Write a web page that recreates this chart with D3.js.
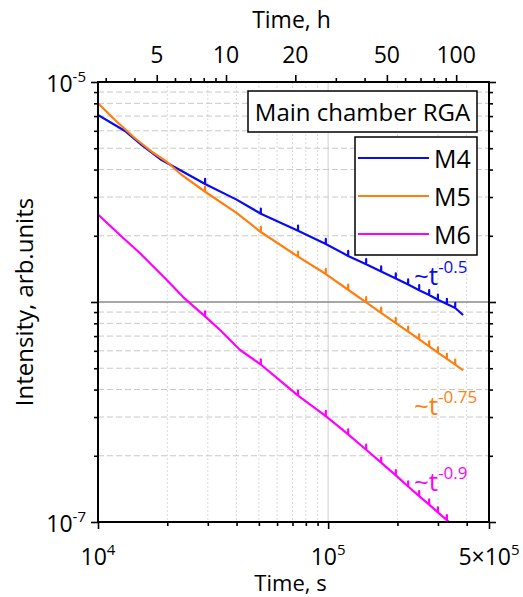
<!DOCTYPE html>
<html>
<head>
<meta charset="utf-8">
<script src="https://cdn.jsdelivr.net/npm/d3@7"></script>
<style>
  body { margin: 0; background: #fff; }
  text { font-family: "Open Sans", sans-serif; fill: #000; }
</style>
</head>
<body>
<svg id="chart" width="523" height="597"></svg>
<script>
// ---- data: RGA intensity vs time for three mass channels ----
const m4Time  = [10000, 13100, 15500, 18900, 22700, 29200, 40000, 51000, 74000, 97700, 122200, 146300, 170000, 196800, 222700, 248700, 274800, 299900, 328100, 356600, 385600];
const m4Value = [7.08e-6, 5.99e-6, 5.17e-6, 4.42e-6, 3.98e-6, 3.44e-6, 2.92e-6, 2.52e-6, 2.11e-6, 1.835e-6, 1.62e-6, 1.485e-6, 1.376e-6, 1.28e-6, 1.2e-6, 1.132e-6, 1.075e-6, 1.023e-6, 9.8e-7, 9.39e-7, 8.73e-7];

const m5Time  = [10000, 11860, 14480, 17120, 19900, 23100, 29200, 40000, 51000, 74000, 97700, 122200, 146300, 170000, 196800, 222700, 248700, 274800, 299900, 328100, 356600, 386400];
const m5Value = [8.0e-6, 6.72e-6, 5.55e-6, 4.82e-6, 4.34e-6, 3.78e-6, 3.17e-6, 2.54e-6, 2.08e-6, 1.607e-6, 1.34e-6, 1.137e-6, 9.97e-7, 8.93e-7, 8.02e-7, 7.33e-7, 6.76e-7, 6.28e-7, 5.89e-7, 5.51e-7, 5.19e-7, 4.89e-7];

const m6Time  = [10000, 12460, 15230, 19900, 23490, 29200, 33920, 41430, 51000, 61830, 74000, 97700, 122200, 146300, 170000, 196800, 222700, 248700, 274800, 299900, 328100, 340000];
const m6Value = [2.5e-6, 2.016e-6, 1.665e-6, 1.259e-6, 1.05e-6, 8.6e-7, 7.46e-7, 6.05e-7, 5.2e-7, 4.39e-7, 3.75e-7, 3.03e-7, 2.5e-7, 2.13e-7, 1.86e-7, 1.63e-7, 1.45e-7, 1.31e-7, 1.2e-7, 1.106e-7, 1.02e-7, 9.85e-8];

// moments of the short pressure bursts seen on every channel (s)
const spikeTimes = [29200, 51000, 74000, 97700, 122200, 146300, 170000, 196800, 222700, 248700, 274800, 299900, 328100, 356600];

const seriesNames  = ["M4", "M5", "M6"];
const seriesColors = ["#0a0af5", "#ff7f0e", "#ff00ff"];
const slopeLabels  = ["-0.5", "-0.75", "-0.9"];

// axis ticks
const xMajor = [1e4, 1e5, 5e5];
const xMinor = [2e4, 3e4, 4e4, 5e4, 6e4, 7e4, 8e4, 9e4, 2e5, 3e5, 4e5];
const xLabels = [["10", "4"], ["10", "5"], ["5×10", "5"]];
const hourMajor = [5, 10, 20, 50, 100];
const hourMinor = [3, 4, 6, 7, 8, 9, 30, 40, 60, 70, 80, 90];
const yMajor = [1e-5, 1e-6, 1e-7];
const yMinor = [2e-7, 3e-7, 4e-7, 5e-7, 6e-7, 7e-7, 8e-7, 9e-7, 2e-6, 3e-6, 4e-6, 5e-6, 6e-6, 7e-6, 8e-6, 9e-6];
const yLabels = [[1e-5, "10", "-5"], [1e-7, "10", "-7"]];

// ---- layout ----
const L = 98, R = 489, T = 82, B = 522;
const svg = d3.select("#chart");

const x  = d3.scaleLog().domain([1e4, 5e5]).range([L, R]);
const xh = d3.scaleLog().domain([1e4 / 3600, 5e5 / 3600]).range([L, R]);
const y  = d3.scaleLog().domain([1e-7, 1e-5]).range([B, T]);

// ---- grid ----
const grid = svg.append("g");
grid.selectAll(".vg").data(xMinor).join("line")
  .attr("x1", d => x(d)).attr("x2", d => x(d)).attr("y1", T).attr("y2", B)
  .attr("stroke", "#d9d9d9").attr("stroke-width", 1).attr("stroke-dasharray", "2,2");
grid.append("line")
  .attr("x1", x(1e5)).attr("x2", x(1e5)).attr("y1", T).attr("y2", B)
  .attr("stroke", "#cfcfcf").attr("stroke-width", 1);
grid.selectAll(".hg").data(yMinor).join("line")
  .attr("x1", L).attr("x2", R).attr("y1", d => y(d)).attr("y2", d => y(d))
  .attr("stroke", "#c8c8c8").attr("stroke-width", 1).attr("stroke-dasharray", "6,3");
grid.append("line")
  .attr("x1", L).attr("x2", R).attr("y1", y(1e-6)).attr("y2", y(1e-6))
  .attr("stroke", "#8a8a8a").attr("stroke-width", 1.5);

// ---- series ----
svg.append("defs").append("clipPath").attr("id", "plot")
  .append("rect").attr("x", L).attr("y", T).attr("width", R - L).attr("height", B - T);

const spikeSet = new Set(spikeTimes);
function withSpikes(times, values) {
  const pts = [];
  times.forEach((t, i) => {
    pts.push([t, values[i]]);
    if (spikeSet.has(t)) { pts.push([t, values[i] * 1.055]); pts.push([t, values[i]]); }
  });
  return pts;
}
const allSeries = [
  withSpikes(m4Time, m4Value),
  withSpikes(m5Time, m5Value),
  withSpikes(m6Time, m6Value)
];
const line = d3.line().x(d => x(d[0])).y(d => y(d[1]));
svg.append("g").attr("clip-path", "url(#plot)")
  .selectAll("path").data(allSeries).join("path")
  .attr("d", line).attr("fill", "none")
  .attr("stroke", (d, i) => seriesColors[i]).attr("stroke-width", 2.2)
  .attr("stroke-linejoin", "round");

// ---- axes (ticks via d3.axis, frame drawn separately) ----
function ticks(gen, vals, size, tx, ty) {
  const g = svg.append("g").attr("transform", `translate(${tx},${ty})`)
    .call(gen.tickValues(vals).tickSize(size).tickFormat(""));
  g.select(".domain").remove();
  g.selectAll(".tick line").attr("stroke", "#000").attr("stroke-width", 1.6);
}
ticks(d3.axisBottom(x), xMajor, 7, 0, B);
ticks(d3.axisBottom(x), xMinor, 4, 0, B);
ticks(d3.axisTop(xh), hourMajor, 7, 0, T);
ticks(d3.axisTop(xh), hourMinor, 4, 0, T);
ticks(d3.axisLeft(y), yMajor, 7, L, 0);
ticks(d3.axisLeft(y), yMinor, 4, L, 0);
ticks(d3.axisRight(y), yMajor, 7, R, 0);
ticks(d3.axisRight(y), yMinor, 4, R, 0);

svg.append("rect").attr("x", L).attr("y", T).attr("width", R - L).attr("height", B - T)
  .attr("fill", "none").attr("stroke", "#000").attr("stroke-width", 2);

// ---- tick labels ----
const FS = 23, SUP = 15;
xMajor.forEach((v, i) => {
  const t = svg.append("text").attr("x", x(v)).attr("y", 565)
    .attr("text-anchor", "middle").attr("font-size", FS);
  t.append("tspan").text(xLabels[i][0]);
  t.append("tspan").attr("dy", -10).attr("font-size", SUP).text(xLabels[i][1]);
});
hourMajor.forEach(h => {
  svg.append("text").attr("x", xh(h)).attr("y", 63)
    .attr("text-anchor", "middle").attr("font-size", FS).text(h);
});
yLabels.forEach(([v, base, exp]) => {
  const t = svg.append("text").attr("x", 86).attr("y", y(v) + 9.5)
    .attr("text-anchor", "end").attr("font-size", FS);
  t.append("tspan").text(base);
  t.append("tspan").attr("dy", -10).attr("font-size", SUP).text(exp);
});

// ---- axis titles ----
svg.append("text").attr("x", (L + R) / 2 - 3).attr("y", 591)
  .attr("text-anchor", "middle").attr("font-size", 22).text("Time, s");
svg.append("text").attr("x", (L + R) / 2 - 2).attr("y", 28)
  .attr("text-anchor", "middle").attr("font-size", 23).text("Time, h");
svg.append("text").attr("transform", `translate(33,${(T + B) / 2}) rotate(-90)`)
  .attr("text-anchor", "middle").attr("font-size", 24).text("Intensity, arb.units");

// ---- legend ----
const title = svg.append("g");
title.append("rect").attr("x", 248).attr("y", 91).attr("width", 229).attr("height", 41)
  .attr("fill", "#fff").attr("stroke", "#000").attr("stroke-width", 1.5);
title.append("text").attr("x", 362.5).attr("y", 121).attr("text-anchor", "middle")
  .attr("font-size", 24).text("Main chamber RGA");

const leg = svg.append("g");
leg.append("rect").attr("x", 355).attr("y", 137).attr("width", 122).attr("height", 118)
  .attr("fill", "#fff").attr("stroke", "#000").attr("stroke-width", 1.5);
const legY = d3.scalePoint().domain(seriesNames).range([158, 234]);
seriesNames.forEach((n, i) => {
  leg.append("line").attr("x1", 358).attr("x2", 429).attr("y1", legY(n)).attr("y2", legY(n))
    .attr("stroke", seriesColors[i]).attr("stroke-width", 2.2);
  leg.append("text").attr("x", 434).attr("y", legY(n) + 10).attr("font-size", 25).text(n);
});

// ---- power-law annotations ----
const annoY = [285, 415, 491];
slopeLabels.forEach((s, i) => {
  const t = svg.append("text").attr("x", 414).attr("y", annoY[i])
    .attr("font-size", 26).style("fill", seriesColors[i]);
  t.append("tspan").text("~t");
  t.append("tspan").attr("dy", -12).attr("font-size", 17).text(s);
});
</script>
</body>
</html>
